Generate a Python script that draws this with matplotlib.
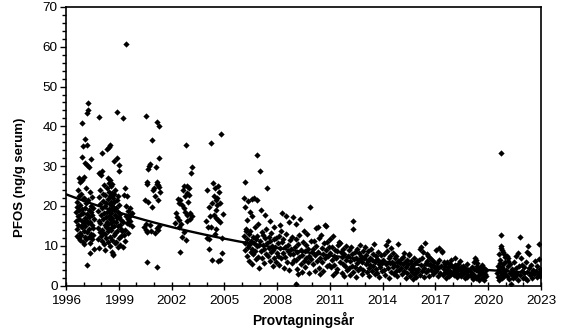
import numpy as np
import matplotlib.pyplot as plt
from matplotlib.ticker import MultipleLocator

plt.rcParams["font.family"] = ["Liberation Sans", "DejaVu Sans"]

# PFOS i serum (ng/g) per provtagning: (provtagningsår, halt)
s1997 = [(1996.55, 18.5), (1996.58, 16.2), (1996.6, 21.0), (1996.62, 14.1), (1996.63, 19.8),
         (1996.65, 12.5), (1996.66, 17.4), (1996.68, 24.0), (1996.7, 15.3), (1996.71, 22.6),
         (1996.72, 12.0), (1996.74, 18.9), (1996.75, 27.0), (1996.76, 16.8), (1996.78, 13.2),
         (1996.8, 26.0), (1996.81, 20.3), (1996.82, 11.4), (1996.84, 17.9), (1996.85, 15.0),
         (1996.87, 23.1), (1996.88, 12.8), (1996.89, 40.9), (1996.9, 32.4), (1996.9, 26.5),
         (1996.91, 19.2), (1996.92, 14.6), (1996.93, 16.1), (1996.95, 35.0), (1996.96, 21.7),
         (1996.97, 11.0), (1996.98, 18.2), (1997.0, 13.8), (1997.01, 15.8), (1997.02, 22.0),
         (1997.03, 10.5), (1997.05, 27.2), (1997.06, 17.0), (1997.07, 19.6), (1997.08, 36.8),
         (1997.09, 12.3), (1997.1, 30.7), (1997.1, 14.9), (1997.12, 20.8), (1997.13, 16.5),
         (1997.15, 11.6), (1997.16, 24.6), (1997.18, 18.0), (1997.2, 35.3), (1997.2, 30.2),
         (1997.2, 5.2), (1997.21, 13.4), (1997.22, 43.4), (1997.23, 15.6), (1997.25, 44.0),
         (1997.26, 21.4), (1997.27, 45.9), (1997.28, 17.2), (1997.3, 29.7), (1997.3, 12.1),
         (1997.32, 19.0), (1997.33, 14.2), (1997.35, 23.5), (1997.36, 8.1), (1997.37, 16.0),
         (1997.38, 10.8), (1997.4, 31.8), (1997.41, 18.6), (1997.42, 13.0), (1997.44, 20.1),
         (1997.45, 15.2), (1997.47, 11.8), (1997.48, 17.6), (1997.5, 22.3), (1997.52, 14.4),
         (1997.54, 19.4), (1997.56, 12.6), (1997.58, 16.7), (1997.6, 9.2)]

s1998 = [(1997.8, 14.5), (1997.82, 18.8), (1997.84, 11.7), (1997.86, 22.2), (1997.88, 42.4),
         (1997.88, 16.3), (1997.9, 28.3), (1997.9, 9.4), (1997.91, 13.5), (1997.93, 20.4),
         (1997.95, 15.8), (1997.96, 24.1), (1997.98, 12.4), (1998.0, 27.8), (1998.0, 17.7),
         (1998.02, 28.8), (1998.03, 33.3), (1998.04, 14.0), (1998.06, 19.5), (1998.07, 11.2),
         (1998.09, 23.0), (1998.1, 16.6), (1998.12, 13.1), (1998.13, 21.3), (1998.15, 18.1),
         (1998.16, 10.4), (1998.18, 25.2), (1998.19, 15.1), (1998.2, 9.0), (1998.21, 19.9),
         (1998.23, 12.9), (1998.24, 22.7), (1998.26, 17.2), (1998.27, 14.8), (1998.29, 20.8),
         (1998.3, 11.9), (1998.32, 24.4), (1998.33, 16.0), (1998.35, 34.3), (1998.35, 18.6),
         (1998.36, 13.7), (1998.38, 21.8), (1998.39, 15.4), (1998.4, 26.9), (1998.41, 10.9),
         (1998.42, 19.2), (1998.44, 23.6), (1998.45, 25.8), (1998.45, 14.3), (1998.46, 17.5),
         (1998.47, 34.8), (1998.48, 20.6), (1998.49, 12.2), (1998.5, 35.4), (1998.5, 26.5),
         (1998.5, 10.0), (1998.51, 22.4), (1998.52, 16.8), (1998.53, 19.0), (1998.54, 24.9),
         (1998.55, 13.9), (1998.56, 21.1), (1998.57, 18.3), (1998.58, 15.6), (1998.59, 23.3),
         (1998.6, 8.5), (1998.6, 20.0), (1998.61, 11.5), (1998.62, 17.0), (1998.63, 25.5),
         (1998.64, 14.6), (1998.65, 8.0), (1998.65, 21.9), (1998.66, 19.7), (1998.67, 7.6),
         (1998.68, 16.2), (1998.7, 22.9), (1998.71, 12.7), (1998.72, 18.9), (1998.74, 15.0),
         (1998.75, 31.2), (1998.75, 20.9), (1998.77, 10.6), (1998.78, 17.8), (1998.8, 24.0),
         (1998.81, 13.3), (1998.83, 19.4), (1998.84, 15.9), (1998.86, 11.0), (1998.88, 43.6),
         (1998.88, 32.0), (1998.88, 21.5), (1998.9, 16.9), (1998.91, 13.6), (1998.93, 9.8),
         (1998.95, 18.4), (1998.96, 22.6), (1998.98, 14.9), (1999.0, 30.3), (1999.0, 28.7),
         (1999.0, 17.3), (1999.02, 12.0), (1999.04, 20.2), (1999.05, 15.3), (1999.07, 10.2),
         (1999.08, 18.0), (1999.1, 14.1), (1999.12, 16.5), (1999.14, 12.5)]

s1999 = [(1999.26, 42.1), (1999.41, 60.6), (1999.3, 22.8), (1999.35, 24.6), (1999.38, 14.0),
         (1999.42, 17.5), (1999.45, 15.8), (1999.48, 22.4), (1999.5, 16.6), (1999.52, 18.8),
         (1999.55, 13.2), (1999.58, 17.1), (1999.6, 15.4), (1999.63, 19.6), (1999.66, 16.3),
         (1999.7, 17.9), (1999.73, 15.0), (1999.76, 18.3), (1999.22, 9.6), (1999.3, 12.6),
         (1999.33, 11.3), (1999.4, 19.9), (1999.2, 13.8), (1999.25, 16.0)]

s2001 = [(2000.55, 42.5), (2001.15, 41.1), (2001.3, 40.0), (2000.89, 36.6), (2001.28, 32.0),
         (2000.7, 30.0), (2000.68, 29.2), (2000.75, 30.6), (2000.6, 26.1), (2000.58, 25.6),
         (2000.95, 24.1), (2001.2, 26.0), (2001.25, 25.2), (2001.15, 25.5), (2001.3, 24.8),
         (2000.5, 21.6), (2000.65, 21.0), (2001.22, 21.5), (2000.45, 14.7), (2000.52, 14.0),
         (2000.62, 13.5), (2000.85, 13.8), (2001.05, 13.2), (2001.25, 14.0), (2001.15, 14.5),
         (2000.6, 6.0), (2001.15, 4.6), (2000.9, 19.8), (2001.05, 22.5), (2001.35, 23.5),
         (2000.78, 15.2), (2000.55, 15.5), (2001.1, 29.8), (2000.98, 24.6), (2001.3, 15.0)]

s2003 = [(2002.8, 35.2), (2003.14, 29.9), (2003.1, 28.3), (2002.65, 24.1), (2002.9, 24.9),
         (2003.0, 24.4), (2002.75, 22.4), (2002.5, 21.5), (2002.35, 21.8), (2002.6, 20.3),
         (2002.68, 19.4), (2002.75, 18.6), (2002.85, 17.8), (2003.05, 18.2), (2002.9, 16.1),
         (2002.25, 18.2), (2002.3, 17.3), (2002.4, 16.5), (2002.45, 14.8), (2002.6, 12.3),
         (2002.8, 11.5), (2002.5, 8.5), (2002.95, 21.0), (2003.05, 16.8), (2002.55, 15.5),
         (2002.7, 13.5), (2003.15, 17.5), (2002.4, 20.8), (2002.2, 15.8), (2002.85, 23.3),
         (2003.0, 22.8), (2002.7, 25.0)]

s2004 = [(2004.24, 35.8), (2004.79, 38.1), (2004.35, 25.7), (2004.0, 24.1), (2004.45, 24.5),
         (2004.4, 22.6), (2004.6, 22.1), (2004.3, 20.8), (2004.6, 20.3), (2004.75, 20.8),
         (2004.5, 19.1), (2004.2, 17.4), (2004.4, 17.6), (2004.55, 17.0), (2003.95, 16.1),
         (2004.75, 15.9), (2004.25, 14.7), (2004.5, 14.1), (2004.0, 12.0), (2004.1, 11.6),
         (2004.85, 12.0), (2004.1, 9.2), (2004.3, 6.5), (2004.75, 6.5), (2004.85, 8.2),
         (2004.65, 6.1), (2004.65, 25.0), (2004.7, 23.6), (2004.5, 21.5), (2004.15, 19.8),
         (2004.9, 18.0), (2004.45, 13.0), (2004.62, 16.5), (2004.05, 14.8)]

s2006 = [(2006.17, 26.1), (2006.1, 22.0), (2006.35, 21.2), (2006.55, 21.8), (2006.7, 22.0),
         (2006.85, 21.6), (2006.87, 32.7), (2006.15, 19.8), (2006.45, 18.6), (2006.3, 16.5),
         (2006.25, 13.6), (2006.9, 15.5), (2006.6, 17.4), (2006.12, 12.5), (2006.18, 10.8),
         (2006.2, 8.9), (2006.22, 14.3), (2006.28, 11.6), (2006.3, 7.4), (2006.33, 9.8),
         (2006.38, 12.9), (2006.4, 6.1), (2006.42, 10.3), (2006.48, 13.7), (2006.5, 8.4),
         (2006.52, 11.2), (2006.58, 9.3), (2006.6, 5.3), (2006.62, 12.1), (2006.65, 7.8),
         (2006.68, 10.7), (2006.72, 14.8), (2006.75, 8.7), (2006.78, 11.8), (2006.8, 6.6),
         (2006.83, 9.9), (2006.88, 12.4), (2006.92, 7.2), (2006.95, 10.1), (2006.97, 4.5)]

s2007 = [(2007.02, 28.7), (2007.45, 24.6), (2007.1, 19.0), (2007.3, 17.8), (2007.6, 16.2),
         (2007.8, 14.7), (2007.05, 11.3), (2007.08, 8.6), (2007.12, 13.4), (2007.15, 6.9),
         (2007.18, 10.2), (2007.22, 12.7), (2007.25, 9.1), (2007.28, 5.6), (2007.32, 11.9),
         (2007.35, 8.0), (2007.38, 14.2), (2007.42, 10.6), (2007.48, 7.3), (2007.52, 12.3),
         (2007.55, 9.5), (2007.58, 6.2), (2007.62, 11.1), (2007.65, 8.3), (2007.68, 13.1),
         (2007.72, 10.0), (2007.75, 4.9), (2007.78, 8.9), (2007.82, 11.6), (2007.85, 7.0),
         (2007.88, 9.7), (2007.92, 12.0), (2007.95, 5.9), (2007.98, 8.1)]

s2008 = [(2008.3, 18.2), (2008.5, 17.5), (2008.7, 16.0), (2008.15, 15.3), (2008.9, 17.3),
         (2008.03, 10.8), (2008.06, 7.5), (2008.1, 12.4), (2008.13, 5.2), (2008.18, 9.4),
         (2008.2, 13.6), (2008.24, 6.8), (2008.27, 10.9), (2008.33, 8.2), (2008.36, 11.7),
         (2008.4, 4.3), (2008.43, 9.8), (2008.46, 7.1), (2008.53, 12.9), (2008.56, 6.0),
         (2008.6, 10.3), (2008.63, 8.7), (2008.66, 3.8), (2008.73, 11.4), (2008.76, 7.9),
         (2008.8, 9.2), (2008.83, 5.6), (2008.86, 12.2), (2008.93, 8.0), (2008.96, 6.4)]

s2009 = [(2009.3, 16.6), (2009.1, 15.5), (2009.86, 19.7), (2009.5, 13.8), (2009.1, 0.4),
         (2009.02, 9.6), (2009.05, 6.3), (2009.08, 11.8), (2009.12, 4.1), (2009.15, 8.4),
         (2009.18, 2.8), (2009.2, 10.5), (2009.23, 7.2), (2009.26, 12.6), (2009.33, 5.3),
         (2009.36, 9.0), (2009.4, 3.5), (2009.43, 7.7), (2009.46, 11.0), (2009.53, 6.1),
         (2009.56, 8.8), (2009.6, 4.7), (2009.63, 10.1), (2009.66, 7.0), (2009.7, 13.0),
         (2009.73, 5.8), (2009.76, 9.3), (2009.8, 3.2), (2009.83, 7.5), (2009.9, 11.2),
         (2009.94, 6.6), (2009.97, 8.5)]

s2010 = [(2010.2, 14.4), (2010.3, 14.8), (2010.7, 15.2), (2010.8, 15.0), (2010.5, 12.8),
         (2010.03, 9.1), (2010.06, 5.4), (2010.1, 11.3), (2010.13, 3.7), (2010.16, 7.6),
         (2010.23, 10.0), (2010.26, 6.2), (2010.33, 8.5), (2010.36, 4.5), (2010.4, 11.9),
         (2010.43, 7.0), (2010.46, 2.9), (2010.53, 9.4), (2010.56, 5.9), (2010.6, 8.0),
         (2010.63, 3.6), (2010.66, 10.6), (2010.73, 6.8), (2010.76, 8.9), (2010.83, 4.9),
         (2010.86, 11.0), (2010.9, 7.3), (2010.93, 5.1), (2010.96, 9.7)]

s2011 = [(2011.5, 11.0), (2011.55, 10.7), (2011.2, 12.4), (2011.0, 11.8), (2011.03, 8.2),
         (2011.06, 4.6), (2011.1, 9.6), (2011.13, 6.3), (2011.16, 2.7), (2011.23, 7.5),
         (2011.26, 5.2), (2011.3, 9.0), (2011.33, 3.5), (2011.36, 6.9), (2011.4, 8.7),
         (2011.43, 4.2), (2011.46, 10.1), (2011.6, 6.0), (2011.63, 8.3), (2011.66, 3.1),
         (2011.7, 7.1), (2011.73, 9.3), (2011.76, 5.5), (2011.8, 2.4), (2011.83, 7.8),
         (2011.86, 4.8), (2011.9, 9.9), (2011.93, 6.4), (2011.96, 3.8)]

s2012 = [(2012.3, 16.2), (2012.3, 14.2), (2012.7, 10.2), (2012.03, 7.4), (2012.06, 4.3),
         (2012.1, 8.9), (2012.13, 2.6), (2012.16, 6.1), (2012.2, 9.8), (2012.23, 5.0),
         (2012.26, 7.9), (2012.33, 3.3), (2012.36, 6.6), (2012.4, 8.4), (2012.43, 4.7),
         (2012.46, 2.2), (2012.5, 7.0), (2012.53, 5.6), (2012.56, 9.2), (2012.6, 3.9),
         (2012.63, 6.3), (2012.66, 8.1), (2012.73, 4.4), (2012.76, 7.3), (2012.8, 2.9),
         (2012.83, 5.8), (2012.86, 8.6), (2012.9, 4.0), (2012.93, 6.8)]

s2013 = [(2013.0, 9.6), (2013.5, 10.5), (2013.04, 5.3), (2013.07, 7.6), (2013.1, 3.4),
         (2013.14, 6.2), (2013.17, 8.8), (2013.2, 4.4), (2013.24, 2.5), (2013.27, 7.0),
         (2013.3, 5.1), (2013.34, 9.1), (2013.37, 3.7), (2013.4, 6.5), (2013.44, 4.8),
         (2013.47, 8.0), (2013.54, 2.9), (2013.57, 5.9), (2013.6, 7.4), (2013.64, 4.1),
         (2013.67, 6.7), (2013.7, 3.2), (2013.74, 8.4), (2013.77, 5.4), (2013.8, 2.1),
         (2013.84, 6.0), (2013.87, 4.6), (2013.9, 7.7), (2013.94, 3.6), (2013.97, 5.7)]

s2014 = [(2014.28, 11.3), (2014.9, 10.4), (2014.2, 10.2), (2014.5, 9.5), (2014.03, 6.3),
         (2014.06, 3.9), (2014.1, 7.8), (2014.14, 2.6), (2014.17, 5.4), (2014.24, 8.6),
         (2014.3, 4.3), (2014.34, 6.9), (2014.37, 2.0), (2014.4, 5.6), (2014.44, 7.3),
         (2014.47, 3.4), (2014.54, 6.0), (2014.57, 4.6), (2014.6, 8.1), (2014.64, 2.9),
         (2014.67, 5.2), (2014.7, 6.8), (2014.74, 3.7), (2014.77, 7.5), (2014.8, 4.9),
         (2014.84, 2.3), (2014.87, 6.2), (2014.94, 4.0), (2014.97, 5.7)]

s2015 = [(2015.2, 8.2), (2015.5, 7.9), (2015.03, 4.4), (2015.06, 6.6), (2015.1, 2.8),
         (2015.14, 5.3), (2015.17, 7.2), (2015.24, 3.6), (2015.27, 5.9), (2015.3, 1.9),
         (2015.34, 4.7), (2015.37, 6.4), (2015.4, 3.1), (2015.44, 5.5), (2015.47, 7.6),
         (2015.54, 2.4), (2015.57, 4.2), (2015.6, 6.1), (2015.64, 3.5), (2015.67, 5.0),
         (2015.7, 1.6), (2015.74, 4.5), (2015.77, 6.8), (2015.8, 3.0), (2015.84, 5.6),
         (2015.87, 2.2), (2015.9, 4.0), (2015.94, 6.2), (2015.97, 3.3)]

s2016 = [(2016.4, 10.8), (2016.2, 9.7), (2016.1, 9.1), (2016.5, 8.0), (2016.6, 7.5),
         (2016.3, 8.5), (2016.03, 4.1), (2016.06, 6.3), (2016.13, 2.7), (2016.16, 5.2),
         (2016.23, 3.6), (2016.26, 6.8), (2016.34, 4.5), (2016.37, 2.1), (2016.44, 5.7),
         (2016.47, 3.3), (2016.54, 6.1), (2016.57, 4.0), (2016.64, 2.5), (2016.67, 5.3),
         (2016.7, 7.0), (2016.74, 3.8), (2016.77, 4.8), (2016.8, 6.5), (2016.84, 2.9),
         (2016.87, 5.0), (2016.9, 3.5), (2016.94, 6.0), (2016.97, 4.3)]

s2017 = [(2017.06, 8.9), (2017.2, 9.5), (2017.35, 8.8), (2017.4, 8.4), (2017.03, 3.6),
         (2017.1, 5.6), (2017.13, 2.4), (2017.16, 4.5), (2017.23, 6.4), (2017.26, 3.1),
         (2017.3, 5.0), (2017.44, 2.7), (2017.47, 4.2), (2017.5, 6.0), (2017.54, 3.4),
         (2017.57, 5.3), (2017.6, 2.0), (2017.64, 4.0), (2017.67, 5.9), (2017.7, 3.0),
         (2017.74, 4.6), (2017.77, 2.5), (2017.8, 5.4), (2017.84, 3.7), (2017.87, 6.3),
         (2017.9, 2.9), (2017.94, 4.9), (2017.97, 3.3)]

s2018 = [(2018.4, 6.2), (2018.1, 6.8), (2018.03, 4.4), (2018.06, 2.6), (2018.1, 5.2),
         (2018.14, 3.3), (2018.17, 4.8), (2018.2, 2.1), (2018.24, 3.9), (2018.27, 5.5),
         (2018.3, 2.8), (2018.34, 4.2), (2018.37, 3.0), (2018.44, 4.7), (2018.47, 2.4),
         (2018.5, 3.6), (2018.54, 5.0), (2018.57, 2.9), (2018.6, 4.0), (2018.64, 3.2),
         (2018.67, 1.8), (2018.7, 4.5), (2018.74, 3.5), (2018.77, 2.2), (2018.8, 5.3),
         (2018.84, 3.8), (2018.87, 2.7)]

s2019 = [(2019.25, 7.0), (2019.3, 6.4), (2019.35, 5.7), (2019.2, 6.0), (2019.0, 3.5),
         (2019.04, 2.3), (2019.07, 4.6), (2019.1, 3.0), (2019.14, 1.6), (2019.17, 4.1),
         (2019.22, 2.7), (2019.28, 3.8), (2019.32, 1.9), (2019.38, 4.9), (2019.42, 2.5),
         (2019.45, 3.4), (2019.48, 1.3), (2019.52, 4.3), (2019.55, 2.8), (2019.58, 3.7),
         (2019.62, 1.8), (2019.65, 5.2), (2019.68, 2.2), (2019.72, 3.2), (2019.75, 4.4),
         (2019.78, 1.5), (2019.82, 3.0), (2019.85, 2.4), (2019.88, 3.9)]

s2020 = [(2020.7, 33.3), (2020.7, 12.7), (2020.72, 10.0), (2020.75, 9.5), (2020.8, 9.0),
         (2020.85, 8.5), (2020.9, 7.8), (2020.95, 7.2), (2020.6, 8.0), (2020.65, 6.5),
         (2020.5, 3.2), (2020.53, 5.0), (2020.56, 2.1), (2020.6, 4.2), (2020.62, 1.5),
         (2020.66, 3.6), (2020.68, 5.6), (2020.72, 2.6), (2020.76, 4.6), (2020.78, 1.9),
         (2020.82, 3.4), (2020.86, 5.3), (2020.88, 2.3), (2020.92, 4.0), (2020.96, 3.0),
         (2020.98, 6.0)]

s2021 = [(2021.8, 12.1), (2021.05, 7.4), (2021.1, 6.8), (2021.15, 6.2), (2021.3, 0.3),
         (2021.6, 7.5), (2021.7, 8.2), (2021.85, 7.0), (2021.02, 3.8), (2021.06, 2.4),
         (2021.12, 4.9), (2021.18, 1.6), (2021.22, 3.2), (2021.26, 5.5), (2021.33, 2.7),
         (2021.36, 4.1), (2021.4, 1.9), (2021.44, 3.5), (2021.48, 5.9), (2021.52, 2.2),
         (2021.56, 4.4), (2021.64, 3.0), (2021.68, 1.4), (2021.74, 4.8), (2021.78, 2.6),
         (2021.9, 3.7), (2021.94, 5.2), (2021.97, 2.0)]

s2022 = [(2022.27, 10.0), (2022.88, 10.5), (2022.9, 6.7), (2022.3, 7.8), (2022.2, 8.4),
         (2022.02, 3.1), (2022.06, 4.7), (2022.1, 2.0), (2022.14, 5.8), (2022.18, 3.5),
         (2022.22, 1.5), (2022.34, 4.3), (2022.38, 2.6), (2022.42, 5.1), (2022.46, 3.2),
         (2022.5, 1.8), (2022.55, 4.0), (2022.6, 2.8), (2022.65, 6.2), (2022.7, 3.7),
         (2022.75, 2.2), (2022.8, 4.8), (2022.84, 3.0), (2022.92, 2.4), (2022.95, 4.2),
         (2022.97, 3.4)]

samples = (s1997 + s1998 + s1999 + s2001 + s2003 + s2004 + s2006 + s2007 + s2008
           + s2009 + s2010 + s2011 + s2012 + s2013 + s2014 + s2015 + s2016 + s2017
           + s2018 + s2019 + s2020 + s2021 + s2022)

years = np.array([s[0] for s in samples])
pfos = np.array([s[1] for s in samples])

x_ticks = list(range(1996, 2024, 3))

# log-linear trend (exponential decline)
slope, intercept = np.polyfit(years - 1996, np.log(pfos), 1)
x_fit = np.linspace(1996, 2023, 200)
y_fit = np.exp(intercept + slope * (x_fit - 1996))

fig = plt.figure(figsize=(5.74, 3.32), dpi=100)
ax = fig.add_axes([0.115, 0.14, 0.8275, 0.839])

ax.plot(years, pfos, linestyle="none", marker="D", markersize=3.2,
        color="black", markeredgewidth=0)
ax.plot(x_fit, y_fit, color="black", linewidth=1.7)

ax.set_xlim(1996, 2023)
ax.set_ylim(0, 70)
ax.set_xticks(x_ticks)
ax.xaxis.set_minor_locator(MultipleLocator(1))
ax.yaxis.set_major_locator(MultipleLocator(10))
ax.yaxis.set_minor_locator(MultipleLocator(2))

ax.tick_params(axis="x", which="major", direction="inout", length=6, width=1,
               labelsize=9.7, pad=4)
ax.tick_params(axis="x", which="minor", direction="in", length=3, width=1)
ax.tick_params(axis="y", which="major", direction="out", length=4, width=1,
               labelsize=9.7, pad=2)
ax.tick_params(axis="y", which="minor", direction="out", length=3, width=1)

for sp in ax.spines.values():
    sp.set_linewidth(1.2)

ax.set_xlabel("Provtagningsår", fontsize=10, fontweight="bold", labelpad=3)
ax.set_ylabel("PFOS (ng/g serum)", fontsize=9.5, fontweight="bold", labelpad=6)
ax.yaxis.set_label_coords(-0.085, 0.39)

fig.savefig("out.png", dpi=100)
